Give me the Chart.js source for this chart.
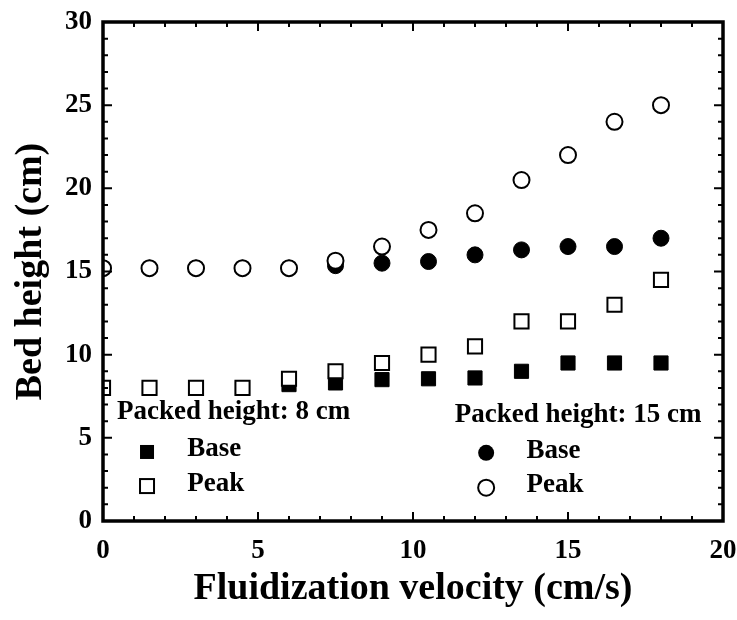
<!DOCTYPE html>
<html>
<head>
<meta charset="utf-8">
<script src="https://cdn.jsdelivr.net/npm/chart.js@4/dist/chart.umd.min.js"></script>
<style>
  html, body { margin: 0; padding: 0; background: #fff; }
  #wrap { width: 737px; height: 620px; position: relative; }
</style>
</head>
<body>
<div id="wrap"><canvas id="c"></canvas></div>
<script>
// Bed height vs fluidization velocity, two packed heights (8 cm, 15 cm).
const velocity = [0, 1.5, 3, 4.5, 6, 7.5, 9, 10.5, 12, 13.5, 15, 16.5, 18];
const base8 = [8, 8, 8, 8, 8.2, 8.3, 8.5, 8.55, 8.6, 9.0, 9.5, 9.5, 9.5];
const peak8 = [8, 8, 8, 8, 8.55, 9.0, 9.5, 10.0, 10.5, 12.0, 12.0, 13.0, 14.5];
const base15 = [15.2, 15.2, 15.2, 15.2, 15.2, 15.35, 15.5, 15.6, 16.0, 16.3, 16.5, 16.5, 17.0];
const peak15 = [15.2, 15.2, 15.2, 15.2, 15.2, 15.65, 16.5, 17.5, 18.5, 20.5, 22.0, 24.0, 25.0];

const FONT = '"Liberation Serif", "Times New Roman", serif';
const pts = (ys) => velocity.map((x, i) => ({ x, y: ys[i] }));

// Dataset 0 is drawn last, so the open markers sit on top of the filled ones.
const datasets = [
  { label: 'Peak 15', data: pts(peak15), pointStyle: 'circle', pointRadius: 8,
    backgroundColor: '#fff', borderColor: '#000', borderWidth: 2 },
  { label: 'Peak 8', data: pts(peak8), pointStyle: 'rect', pointRadius: 10,
    backgroundColor: '#fff', borderColor: '#000', borderWidth: 2 },
  { label: 'Base 15', data: pts(base15), pointStyle: 'circle', pointRadius: 8,
    backgroundColor: '#000', borderColor: '#000', borderWidth: 1 },
  { label: 'Base 8', data: pts(base8), pointStyle: 'rect', pointRadius: 10,
    backgroundColor: '#000', borderColor: '#000', borderWidth: 1 },
];

// Inward ticks on all four sides + heavy frame.
const frame = {
  id: 'frame',
  afterDatasetsDraw(chart) {
    const { ctx, chartArea: a, scales: { x, y } } = chart;
    ctx.save();
    ctx.strokeStyle = '#000';
    ctx.lineWidth = 2;
    for (let v = 0; v <= 20; v++) {
      const px = x.getPixelForValue(v), len = v % 5 === 0 ? 9 : 5;
      ctx.beginPath();
      ctx.moveTo(px, a.bottom); ctx.lineTo(px, a.bottom - len);
      ctx.moveTo(px, a.top); ctx.lineTo(px, a.top + len);
      ctx.stroke();
    }
    for (let v = 0; v <= 30; v++) {
      const py = y.getPixelForValue(v), len = v % 5 === 0 ? 9 : 5;
      ctx.beginPath();
      ctx.moveTo(a.left, py); ctx.lineTo(a.left + len, py);
      ctx.moveTo(a.right, py); ctx.lineTo(a.right - len, py);
      ctx.stroke();
    }
    ctx.lineWidth = 3.5;
    ctx.strokeRect(a.left, a.top, a.right - a.left, a.bottom - a.top);
    ctx.restore();
  },
};

// Two in-plot legends, placed in data coordinates.
const legends = {
  id: 'legends',
  afterDraw(chart) {
    const { ctx, scales: { x, y } } = chart;
    ctx.save();
    ctx.fillStyle = '#000';
    ctx.strokeStyle = '#000';
    ctx.textBaseline = 'middle';
    ctx.font = 'bold 27px ' + FONT;
    const txt = (s, vx, vy) => ctx.fillText(s, x.getPixelForValue(vx), y.getPixelForValue(vy));
    txt('Packed height: 8 cm', 0.45, 6.55);
    txt('Base', 2.72, 4.3);
    txt('Peak', 2.72, 2.2);
    txt('Packed height: 15 cm', 11.35, 6.35);
    txt('Base', 13.66, 4.2);
    txt('Peak', 13.66, 2.15);

    ctx.lineWidth = 2;
    let px = x.getPixelForValue(1.42), py = y.getPixelForValue(4.15);
    ctx.fillRect(px - 7, py - 7, 14, 14);
    py = y.getPixelForValue(2.1);
    ctx.strokeRect(px - 7, py - 7, 14, 14);
    px = x.getPixelForValue(12.36); py = y.getPixelForValue(4.1);
    ctx.beginPath(); ctx.arc(px, py, 8, 0, Math.PI * 2); ctx.fill();
    py = y.getPixelForValue(2.0);
    ctx.beginPath(); ctx.arc(px, py, 8, 0, Math.PI * 2); ctx.stroke();
    ctx.restore();
  },
};

new Chart(document.getElementById('c'), {
  type: 'scatter',
  data: { datasets },
  options: {
    responsive: true,
    maintainAspectRatio: false,
    animation: false,
    layout: { padding: { top: 22, right: 14, left: 4, bottom: 0 } },
    plugins: { legend: { display: false }, tooltip: { enabled: false } },
    scales: {
      x: {
        type: 'linear', min: 0, max: 20,
        grid: { display: false }, border: { display: false },
        ticks: { stepSize: 5, color: '#000', padding: 6, font: { family: FONT, size: 27, weight: 'bold' } },
        title: { display: true, text: 'Fluidization velocity (cm/s)', color: '#000',
          padding: { top: 4, bottom: 8 }, font: { family: FONT, size: 38, weight: 'bold' } },
        afterFit(s) { s.height = 99; s.paddingRight = 0; },
      },
      y: {
        type: 'linear', min: 0, max: 30,
        grid: { display: false }, border: { display: false },
        ticks: { stepSize: 5, color: '#000', padding: 3, font: { family: FONT, size: 27, weight: 'bold' } },
        title: { display: true, text: 'Bed height (cm)', color: '#000',
          padding: { bottom: 8 }, font: { family: FONT, size: 38, weight: 'bold' } },
        afterFit(s) { s.width = 99; },
      },
    },
  },
  plugins: [frame, legends],
});
</script>
</body>
</html>
